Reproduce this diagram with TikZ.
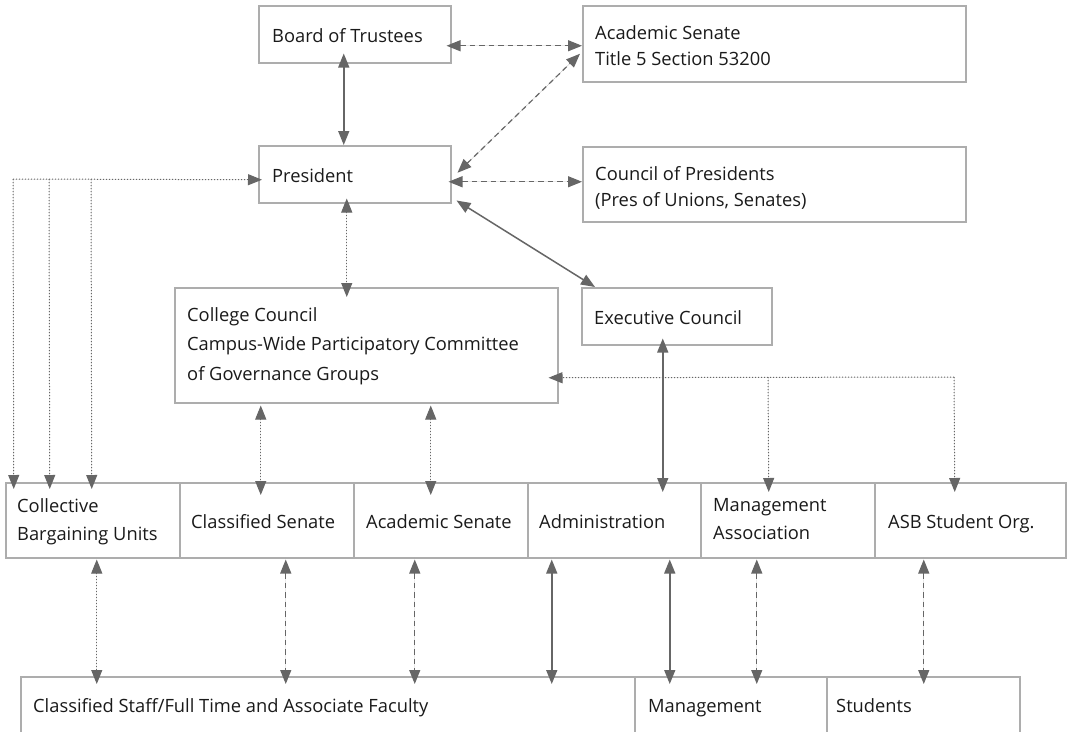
\documentclass[tikz,border=0pt]{standalone}
\usepackage{fontspec}
\setmainfont{Open Sans}
\usetikzlibrary{arrows.meta}
\definecolor{arr}{HTML}{666666}
\definecolor{bord}{HTML}{ADADAD}
\definecolor{txt}{HTML}{1A1A1A}
\begin{document}
\begin{tikzpicture}[x=1pt,y=-1pt,
  box/.style={draw=bord, line width=1.5pt, inner sep=0pt, anchor=north west},
  lbl/.style={anchor=west, inner sep=0pt, align=left, text=txt, font=\fontsize{18.3}{28}\selectfont,
    execute at begin node=\strut, execute at end node=\strut, yshift=-3pt},
  >={Triangle[length=14pt,width=11pt]},
  sarr/.style={draw=arr, fill=arr, line width=1.5pt},
  darr/.style={sarr, line width=1.2pt, dash pattern=on 5.5pt off 4pt},
  oarr/.style={sarr, line width=1pt, dash pattern=on 1pt off 2pt},
]
\useasboundingbox (0,0) rectangle (1071,731);
\clip (0,0) rectangle (1071,731);
\fill[white] (0,0) rectangle (1071,731);

% boxes
\node[box, minimum width=192, minimum height=57] (board) at (258,5) {};
\node[box, minimum width=383, minimum height=76] (acad) at (582,5) {};
\node[box, minimum width=192, minimum height=57] (pres) at (258,145) {};
\node[box, minimum width=383, minimum height=75] (council) at (582,146) {};
\node[box, minimum width=383, minimum height=115] (college) at (174,287) {};
\node[box, minimum width=190, minimum height=57] (exec) at (581,287) {};

\node[box, minimum width=174, minimum height=75] (cbu) at (5,482) {};
\node[box, minimum width=174, minimum height=75] (cls) at (179,482) {};
\node[box, minimum width=174, minimum height=75] (acs) at (353,482) {};
\node[box, minimum width=173, minimum height=75] (adm) at (527,482) {};
\node[box, minimum width=174, minimum height=75] (mga) at (700,482) {};
\node[box, minimum width=191, minimum height=75] (asb) at (874,482) {};

\node[box, minimum width=614, minimum height=64] (fac) at (20,676) {};
\node[box, minimum width=192, minimum height=64] (mgt) at (634,676) {};
\node[box, minimum width=193, minimum height=64] (stu) at (826,676) {};

% labels
\node[lbl] (boardL) at ([xshift=14pt]board.west) {Board of Trustees};
\node[lbl, yshift=-3pt, font=\fontsize{18.3}{26.5}\selectfont] (acadL) at ([xshift=13pt]acad.west) {Academic Senate\\Title 5 Section 53200};
\node[lbl] (presL) at ([xshift=14pt]pres.west) {President};
\node[lbl, yshift=-3pt, font=\fontsize{18.3}{26.5}\selectfont] (councilL) at ([xshift=13pt]council.west) {Council of Presidents\\(Pres of Unions, Senates)};
\node[lbl, font=\fontsize{18.3}{29.5}\selectfont] (collegeL) at ([xshift=13pt]college.west) {College Council\\Campus-Wide Participatory Committee\\of Governance Groups};
\node[lbl] (execL) at ([xshift=13pt]exec.west) {Executive Council};
\node[lbl] (cbuL) at ([xshift=12pt]cbu.west) {Collective\\Bargaining Units};
\node[lbl] (clsL) at ([xshift=12pt]cls.west) {Classified Senate};
\node[lbl] (acsL) at ([xshift=13pt]acs.west) {Academic Senate};
\node[lbl] (admL) at ([xshift=12pt]adm.west) {Administration};
\node[lbl] (mgaL) at ([xshift=13pt]mga.west) {Management\\Association};
\node[lbl] (asbL) at ([xshift=14pt]asb.west) {ASB Student Org.};
\node[lbl, yshift=5pt] (facL) at ([xshift=13pt]fac.west) {Classified Staff/Full Time and Associate Faculty};
\node[lbl, yshift=5pt] (mgtL) at ([xshift=14pt]mgt.west) {Management};
\node[lbl, yshift=5pt] (stuL) at ([xshift=10pt]stu.west) {Students};

% top connectors
\draw[darr, <->] ([xshift=-5pt, yshift=-11.5pt]board.east) -- ([yshift=-2pt]acad.west);
\draw[sarr, <->] ([xshift=-11pt, yshift=10pt]board.south) -- ([xshift=-11pt]pres.north);
\draw[darr, <->] ([xshift=6pt, yshift=1.5pt]pres.east) -- ([xshift=-2pt, yshift=-10pt]acad.west);
\draw[darr, <->] ([xshift=-3pt, yshift=-7.5pt]pres.east) -- ([yshift=2.5pt]council.west);
\draw[sarr, <->] ([xshift=5pt, yshift=3pt]pres.south east) -- ([xshift=14pt]exec.north west);
\draw[oarr, <->] ([xshift=-8pt, yshift=5pt]pres.south) -- ([xshift=-19.5pt, yshift=-10pt]college.north);

% left dotted feed
\coordinate (j1) at (13,179);
\coordinate (j2) at (49,179);
\coordinate (j3) at (91,179);
\draw[oarr, ->] (j1) -- ([xshift=4pt, yshift=-5.5pt]pres.west);
\draw[oarr, ->] (j1) -- ([xshift=-79pt, yshift=-7pt]cbu.north);
\draw[oarr, ->] (j2) -- ([xshift=-43pt, yshift=-7pt]cbu.north);
\draw[oarr, ->] (j3) -- ([xshift=-1pt, yshift=-7pt]cbu.north);

% college council links
\draw[oarr, <->] ([xshift=-105.5pt, yshift=-2pt]college.south) -- ([xshift=-6pt, yshift=-13pt]cls.north);
\draw[oarr, <->] ([xshift=64.5pt, yshift=-2pt]college.south) -- ([xshift=-10pt, yshift=-13pt]acs.north);
\draw[sarr, <->] ([xshift=-14pt, yshift=7pt]exec.south) -- ([xshift=48.5pt, yshift=-10pt]adm.north);

\coordinate (k1) at (768,377);
\coordinate (k2) at (954,377);
\draw[oarr, ->] (k2) -- ([xshift=-10pt, yshift=-32.5pt]college.east);
\draw[oarr, ->] (k1) -- ([xshift=-19pt, yshift=-10pt]mga.north);
\draw[oarr, ->] (k2) -- ([xshift=-15.5pt, yshift=-10pt]asb.north);

% lower links
\draw[oarr, <->] ([xshift=4pt, yshift=-1pt]cbu.south) -- ([xshift=-231pt, yshift=-8pt]fac.north);
\draw[darr, <->] ([xshift=19pt, yshift=-1pt]cls.south) -- ([xshift=-42pt, yshift=-8pt]fac.north);
\draw[darr, <->] ([xshift=-26pt, yshift=-1pt]acs.south) -- ([xshift=87pt, yshift=-8pt]fac.north);
\draw[sarr, <->] ([xshift=-62.5pt, yshift=-1pt]adm.south) -- ([xshift=224pt, yshift=-8pt]fac.north);
\draw[sarr, <->] ([xshift=55.5pt, yshift=-1pt]adm.south) -- ([xshift=-61pt, yshift=-8pt]mgt.north);
\draw[darr, <->] ([xshift=-31pt, yshift=-1pt]mga.south) -- ([xshift=26pt, yshift=-8pt]mgt.north);
\draw[darr, <->] ([xshift=-46.5pt, yshift=-1pt]asb.south) -- ([xshift=0.5pt, yshift=-8pt]stu.north);
\end{tikzpicture}
\end{document}
